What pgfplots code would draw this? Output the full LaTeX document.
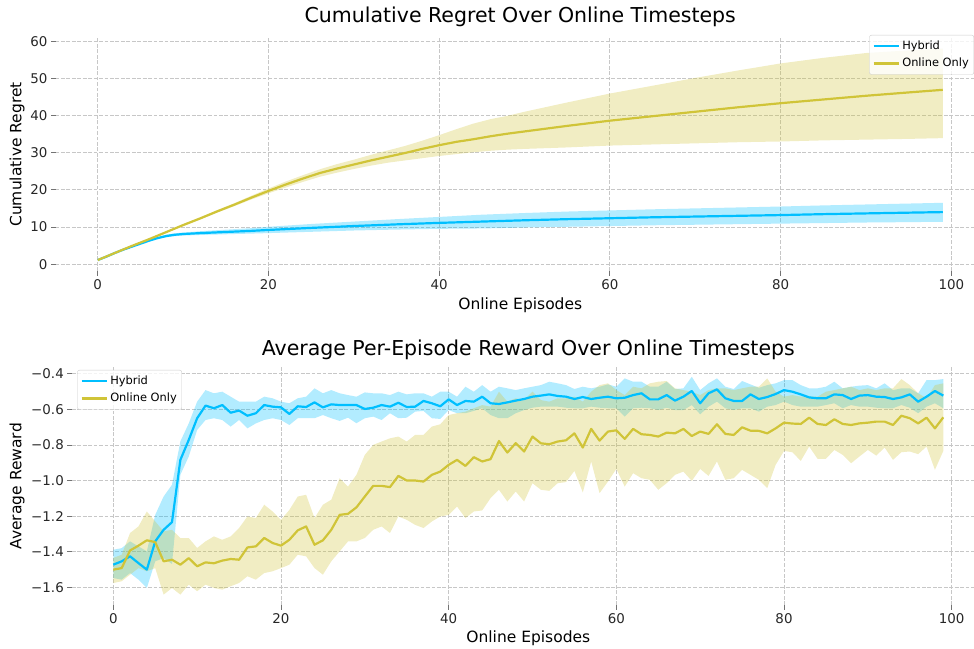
\documentclass[border=0pt]{standalone}
\usepackage{fontspec}
\setmainfont{DejaVu Sans}
\usepackage{pgfplots}
\pgfplotsset{compat=1.18}
\usepackage{pgfplotstable}
\usepgfplotslibrary{fillbetween}
\definecolor{hyb}{RGB}{0,191,255}
\definecolor{onl}{RGB}{208,196,56}

\pgfplotstableread{
x m lo hi
0 1.1 1.1 1.1
1 2.0 1.95 2.05
2 3.0 2.9 3.1
3 3.9 3.78 4.02
4 4.7 4.55 4.85
5 5.5 5.32 5.68
6 6.3 6.08 6.52
7 7.0 6.72 7.28
8 7.55 7.2 7.9
9 7.9 7.52 8.28
10 8.1 7.7 8.5
12 8.35 7.85 8.85
14 8.55 7.97 9.13
16 8.75 8.1 9.4
18 8.95 8.22 9.68
20 9.2 8.35 10.05
25 9.75 8.7 10.8
30 10.25 9.05 11.45
35 10.7 9.3 12.1
40 11.1 9.5 12.7
45 11.45 9.6 13.3
50 11.8 9.85 13.75
55 12.1 10.05 14.15
60 12.35 10.25 14.45
65 12.6 10.45 14.75
70 12.8 10.6 15.0
75 13.0 10.75 15.25
80 13.2 10.9 15.5
85 13.45 11.05 15.8
90 13.65 11.2 16.05
95 13.85 11.3 16.3
99 14.0 11.4 16.5
}\tophyb

\pgfplotstableread{
x m lo hi
0 1.1 1.1 1.1
2 3.0 2.95 3.05
4 4.9 4.8 5.0
6 6.7 6.55 6.85
8 8.6 8.4 8.8
10 10.5 10.25 10.75
12 12.3 12.0 12.6
14 14.2 13.85 14.55
16 16.0 15.6 16.4
18 17.9 17.4 18.4
20 19.7 19.05 20.35
22 21.4 20.6 22.2
24 23.0 22.1 23.9
26 24.5 23.5 25.5
28 25.7 24.6 26.9
30 26.8 25.6 28.1
32 27.9 26.5 29.4
34 28.9 27.3 30.6
36 29.9 27.9 31.8
38 31.0 28.5 33.2
40 32.0 29.1 34.7
42 32.9 29.6 36.3
44 33.6 30.1 37.8
46 34.4 30.5 39.0
48 35.1 30.8 39.9
50 35.7 31.0 41.0
55 37.2 31.4 43.5
60 38.6 31.9 45.9
65 39.8 32.2 48.0
70 41.0 32.5 50.1
75 42.2 32.8 52.1
80 43.3 33.0 54.0
85 44.3 33.3 55.5
90 45.3 33.5 56.8
95 46.2 33.7 57.5
99 46.9 33.9 58.0
}\topon

\pgfplotstableread{
x m lo hi
0 -1.473 -1.548 -1.389
1 -1.454 -1.557 -1.380
2 -1.426 -1.520 -1.342
3 -1.464 -1.557 -1.370
4 -1.501 -1.604 -1.398
5 -1.342 -1.454 -1.193
6 -1.277 -1.436 -1.090
7 -1.234 -1.469 -1.024
8 -0.884 -0.968 -0.780
9 -0.772 -0.865 -0.679
10 -0.650 -0.716 -0.557
11 -0.579 -0.660 -0.492
12 -0.594 -0.650 -0.510
13 -0.576 -0.660 -0.501
14 -0.619 -0.697 -0.529
15 -0.607 -0.660 -0.557
16 -0.636 -0.707 -0.557
17 -0.622 -0.679 -0.557
18 -0.576 -0.660 -0.529
19 -0.585 -0.650 -0.538
20 -0.589 -0.660 -0.557
21 -0.626 -0.688 -0.566
22 -0.583 -0.650 -0.538
23 -0.587 -0.650 -0.529
24 -0.561 -0.650 -0.482
25 -0.589 -0.632 -0.510
26 -0.572 -0.650 -0.492
27 -0.576 -0.665 -0.510
28 -0.576 -0.647 -0.520
29 -0.576 -0.678 -0.529
30 -0.598 -0.650 -0.505
31 -0.591 -0.641 -0.510
32 -0.576 -0.660 -0.510
33 -0.585 -0.622 -0.520
34 -0.563 -0.650 -0.501
35 -0.587 -0.647 -0.516
36 -0.585 -0.613 -0.510
37 -0.553 -0.609 -0.510
38 -0.566 -0.650 -0.529
39 -0.583 -0.654 -0.501
40 -0.544 -0.604 -0.501
41 -0.576 -0.622 -0.529
42 -0.553 -0.622 -0.473
43 -0.557 -0.609 -0.501
44 -0.529 -0.594 -0.464
45 -0.566 -0.632 -0.501
46 -0.570 -0.650 -0.473
47 -0.561 -0.650 -0.482
48 -0.551 -0.622 -0.492
49 -0.542 -0.604 -0.482
50 -0.529 -0.591 -0.473
51 -0.523 -0.585 -0.464
52 -0.516 -0.585 -0.445
53 -0.525 -0.585 -0.454
54 -0.529 -0.591 -0.464
55 -0.542 -0.594 -0.486
56 -0.531 -0.594 -0.473
57 -0.542 -0.585 -0.482
58 -0.535 -0.591 -0.473
59 -0.529 -0.594 -0.460
60 -0.538 -0.594 -0.473
61 -0.535 -0.641 -0.426
62 -0.520 -0.594 -0.445
63 -0.510 -0.591 -0.445
64 -0.544 -0.594 -0.473
65 -0.544 -0.604 -0.473
66 -0.520 -0.591 -0.445
67 -0.551 -0.604 -0.486
68 -0.529 -0.604 -0.482
69 -0.497 -0.576 -0.417
70 -0.566 -0.628 -0.492
71 -0.510 -0.585 -0.454
72 -0.488 -0.557 -0.426
73 -0.538 -0.594 -0.473
74 -0.553 -0.604 -0.486
75 -0.553 -0.594 -0.441
76 -0.516 -0.594 -0.460
77 -0.542 -0.613 -0.479
78 -0.531 -0.585 -0.464
79 -0.514 -0.576 -0.454
80 -0.492 -0.557 -0.436
81 -0.501 -0.576 -0.436
82 -0.516 -0.585 -0.464
83 -0.533 -0.585 -0.482
84 -0.538 -0.585 -0.482
85 -0.538 -0.576 -0.473
86 -0.516 -0.566 -0.445
87 -0.520 -0.594 -0.482
88 -0.542 -0.576 -0.473
89 -0.523 -0.585 -0.467
90 -0.520 -0.585 -0.464
91 -0.529 -0.591 -0.482
92 -0.531 -0.594 -0.454
93 -0.542 -0.594 -0.492
94 -0.533 -0.576 -0.482
95 -0.516 -0.591 -0.482
96 -0.557 -0.622 -0.510
97 -0.529 -0.585 -0.436
98 -0.497 -0.566 -0.436
99 -0.523 -0.594 -0.430
}\bothyb

\pgfplotstableread{
x m lo hi
0 -1.501 -1.576 -1.435
1 -1.492 -1.566 -1.417
2 -1.393 -1.529 -1.295
3 -1.366 -1.492 -1.258
4 -1.336 -1.510 -1.174
5 -1.346 -1.492 -1.230
6 -1.454 -1.641 -1.286
7 -1.445 -1.604 -1.277
8 -1.473 -1.641 -1.323
9 -1.436 -1.585 -1.323
10 -1.482 -1.622 -1.379
11 -1.460 -1.585 -1.342
12 -1.465 -1.604 -1.314
13 -1.450 -1.613 -1.333
14 -1.441 -1.594 -1.314
15 -1.445 -1.576 -1.267
16 -1.376 -1.538 -1.202
17 -1.370 -1.557 -1.211
18 -1.323 -1.520 -1.136
19 -1.351 -1.510 -1.174
20 -1.366 -1.492 -1.221
21 -1.333 -1.473 -1.165
22 -1.280 -1.417 -1.090
23 -1.258 -1.426 -1.080
24 -1.361 -1.492 -1.211
25 -1.336 -1.529 -1.136
26 -1.277 -1.454 -1.108
27 -1.193 -1.398 -0.987
28 -1.187 -1.342 -1.034
29 -1.151 -1.342 -0.968
30 -1.090 -1.323 -0.856
31 -1.030 -1.277 -0.800
32 -1.030 -1.258 -0.781
33 -1.037 -1.295 -0.763
34 -0.974 -1.202 -0.753
35 -1.000 -1.221 -0.781
36 -1.000 -1.249 -0.744
37 -1.006 -1.267 -0.744
38 -0.968 -1.230 -0.697
39 -0.950 -1.202 -0.684
40 -0.912 -1.193 -0.632
41 -0.884 -1.146 -0.622
42 -0.918 -1.211 -0.613
43 -0.869 -1.174 -0.594
44 -0.893 -1.168 -0.576
45 -0.880 -1.099 -0.585
46 -0.778 -1.052 -0.501
47 -0.843 -1.118 -0.557
48 -0.790 -1.062 -0.538
49 -0.837 -1.118 -0.548
50 -0.753 -1.015 -0.501
51 -0.791 -1.052 -0.548
52 -0.796 -1.058 -0.557
53 -0.781 -1.015 -0.538
54 -0.774 -1.009 -0.538
55 -0.735 -0.946 -0.529
56 -0.815 -1.067 -0.557
57 -0.710 -0.893 -0.501
58 -0.776 -1.071 -0.464
59 -0.725 -1.006 -0.454
60 -0.718 -0.935 -0.492
61 -0.766 -1.034 -0.520
62 -0.710 -0.959 -0.473
63 -0.740 -0.987 -0.482
64 -0.744 -0.996 -0.454
65 -0.753 -1.052 -0.445
66 -0.731 -1.015 -0.441
67 -0.735 -0.968 -0.482
68 -0.710 -0.950 -0.492
69 -0.750 -1.002 -0.501
70 -0.725 -0.935 -0.520
71 -0.738 -0.974 -0.492
72 -0.684 -0.893 -0.482
73 -0.738 -0.996 -0.482
74 -0.744 -0.987 -0.492
75 -0.701 -0.940 -0.482
76 -0.720 -0.968 -0.473
77 -0.721 -0.996 -0.473
78 -0.735 -1.043 -0.426
79 -0.707 -0.912 -0.501
80 -0.675 -0.834 -0.529
81 -0.680 -0.841 -0.520
82 -0.682 -0.890 -0.529
83 -0.647 -0.809 -0.529
84 -0.682 -0.878 -0.529
85 -0.688 -0.878 -0.501
86 -0.656 -0.828 -0.492
87 -0.682 -0.856 -0.482
88 -0.688 -0.903 -0.473
89 -0.679 -0.865 -0.492
90 -0.675 -0.828 -0.482
91 -0.669 -0.860 -0.492
92 -0.669 -0.815 -0.482
93 -0.688 -0.884 -0.482
94 -0.636 -0.841 -0.430
95 -0.650 -0.837 -0.464
96 -0.679 -0.852 -0.510
97 -0.647 -0.809 -0.538
98 -0.707 -0.940 -0.464
99 -0.645 -0.834 -0.454
}\boton

\pgfplotsset{
 every axis title shift=0pt,
 mystyle/.style={
  scale only axis,
  axis line style={draw=none},
  tick align=outside,
  major tick length=4.5bp,
  tick style={color=black!55, line width=0.8bp},
  xtick pos=bottom, ytick pos=left,
  grid=major,
  grid style={dash pattern=on 3.8bp off 1.65bp, color=black!22, line width=0.8bp},
  ticklabel style={font=\fontsize{13.4bp}{16bp}\selectfont, color=black!85},
  label style={font=\fontsize{15.5bp}{18bp}\selectfont},
  title style={font=\fontsize{20.5bp}{24bp}\selectfont},
  /pgf/number format/assume math mode=true,
  legend style={font=\fontsize{11.4bp}{13.7bp}\selectfont, draw=black!20, fill=white, fill opacity=0.8, text opacity=1, rounded corners=2bp, anchor=north west, inner xsep=3bp, inner ysep=4bp, row sep=3bp},
  legend cell align=left,
  legend image code/.code={\draw[##1] (0bp,0bp) -- (25.6bp,0bp);},
 }
}

\begin{document}
\begin{tikzpicture}
\begin{axis}[mystyle,
  at={(55.5bp,377.8bp)}, anchor=south west,
  width=929.5bp, height=233.4bp,
  xmin=-4.95, xmax=103.95, ymin=-1.9, ymax=60.9,
  xtick={0,20,40,60,80,100}, ytick={0,10,20,30,40,50,60},
  title={Cumulative Regret Over Online Timesteps},
  title style={at={(axis description cs:0.5,1.089)}, anchor=center},
  xlabel={Online Episodes},
  xlabel style={at={(axis description cs:0.5,-0.145)}, anchor=center},
  ylabel={Cumulative Regret},
  ylabel style={at={(axis description cs:-0.0414,0.5)}, anchor=center},
  legend style={at={(axis description cs:0.8755,1.012)}},
]
\addplot[draw=none, name path=thA, forget plot] table[x=x,y=hi]{\tophyb};
\addplot[draw=none, name path=thB, forget plot] table[x=x,y=lo]{\tophyb};
\addplot[fill=hyb, fill opacity=0.3, draw=none, forget plot] fill between[of=thA and thB];
\addplot[draw=none, name path=toA, forget plot] table[x=x,y=hi]{\topon};
\addplot[draw=none, name path=toB, forget plot] table[x=x,y=lo]{\topon};
\addplot[fill=onl, fill opacity=0.3, draw=none, forget plot] fill between[of=toA and toB];
\addplot[hyb, line width=2.2bp, line join=round] table[x=x,y=m]{\tophyb};
\addlegendentry{Hybrid}
\addplot[onl, line width=2.2bp, line join=round] table[x=x,y=m]{\topon};
\addlegendentry{Online Only}
\end{axis}

\begin{axis}[mystyle,
  at={(71.8bp,43.9bp)}, anchor=south west,
  width=913bp, height=237.6bp,
  xmin=-4.95, xmax=103.95, ymin=-1.70, ymax=-0.365,
  xtick={0,20,40,60,80,100},
  ytick={-1.6,-1.4,-1.2,-1.0,-0.8,-0.6,-0.4},
  yticklabels={−1.6,−1.4,−1.2,−1.0,−0.8,−0.6,−0.4},
  title={Average Per-Episode Reward Over Online Timesteps},
  title style={at={(axis description cs:0.5,1.074)}, anchor=center},
  xlabel={Online Episodes},
  xlabel style={at={(axis description cs:0.5,-0.139)}, anchor=center},
  ylabel={Average Reward},
  ylabel style={at={(axis description cs:-0.060,0.5)}, anchor=center},
  legend style={at={(axis description cs:0.006,0.9895)}},
]
\addplot[draw=none, name path=bhA, forget plot] table[x=x,y=hi]{\bothyb};
\addplot[draw=none, name path=bhB, forget plot] table[x=x,y=lo]{\bothyb};
\addplot[fill=hyb, fill opacity=0.3, draw=none, forget plot] fill between[of=bhA and bhB];
\addplot[draw=none, name path=boA, forget plot] table[x=x,y=hi]{\boton};
\addplot[draw=none, name path=boB, forget plot] table[x=x,y=lo]{\boton};
\addplot[fill=onl, fill opacity=0.3, draw=none, forget plot] fill between[of=boA and boB];
\addplot[hyb, line width=2.2bp, line join=round] table[x=x,y=m]{\bothyb};
\addlegendentry{Hybrid}
\addplot[onl, line width=2.2bp, line join=round] table[x=x,y=m]{\boton};
\addlegendentry{Online Only}
\end{axis}
\pgfresetboundingbox
\useasboundingbox (0bp,0bp) rectangle (974bp,649bp);
\end{tikzpicture}
\end{document}
